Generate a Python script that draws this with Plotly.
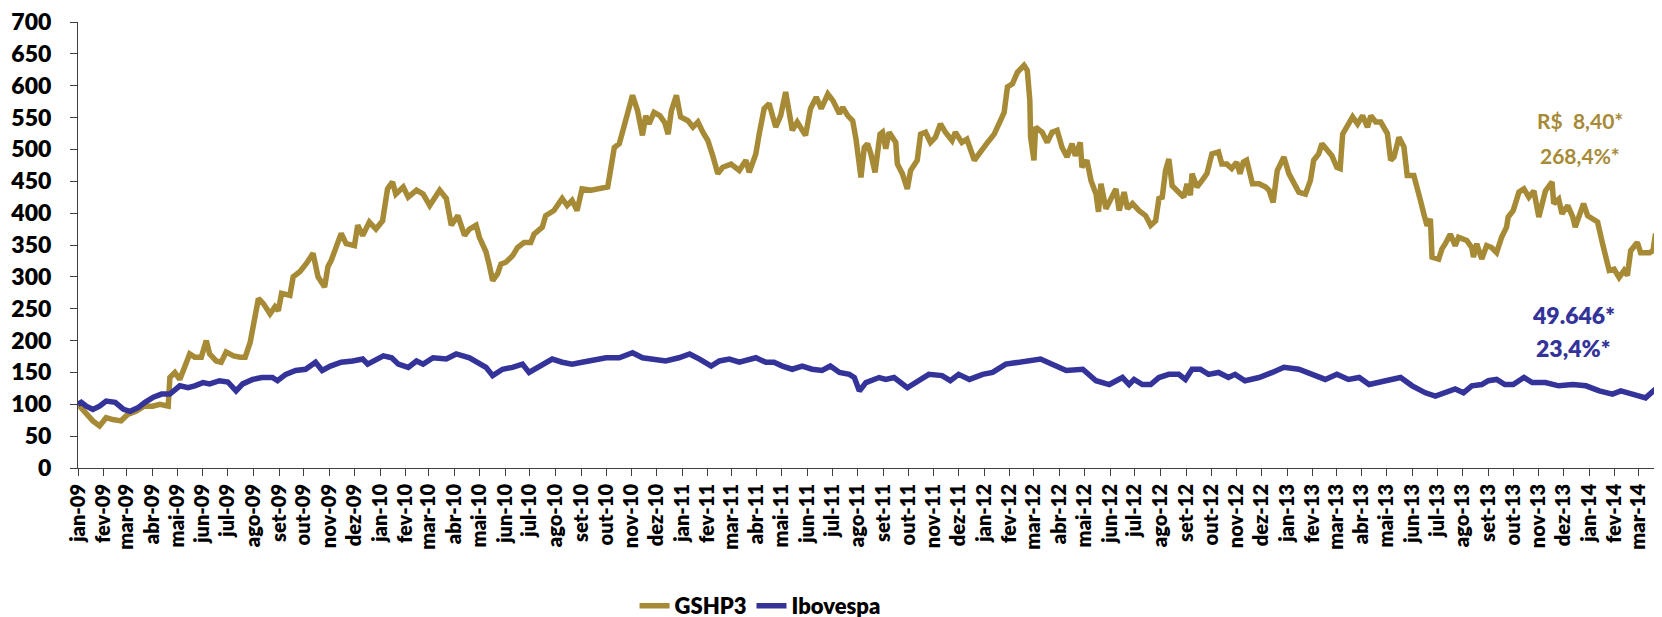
"""
Gráfico de desempenho: GSHP3 vs Ibovespa (base 100 em 01/01/2009)
"""
import pandas as pd
import plotly.graph_objects as go

INICIO = pd.Timestamp("2009-01-01")
COR_GSHP3 = "#A68A36"
COR_IBOV = "#333399"
FONTE = "Lato"

# GSHP3 - dias corridos desde 01/01/2009 e valor (base 100)
gshp3_dias = [
    0, 4, 10, 18, 26, 34, 42, 52, 60, 70, 80, 90, 99, 105, 109, 111, 117, 123, 129, 135,
    141, 149, 155, 159, 167, 173, 179, 188, 196, 202, 208, 212, 218, 224, 232, 238, 242, 246,
    256, 260, 268, 276, 284, 290, 298, 302, 306, 312, 318,
    324, 334, 338, 344, 352, 360, 368, 374, 380, 384, 393, 399, 409, 417, 425, 431, 437, 445,
    451, 459, 467, 473, 481, 485, 493, 497, 501, 507, 511, 517, 525, 531, 539, 547, 551, 561,
    565, 575, 585, 591, 597, 603, 609, 620, 630,
    640, 644, 648, 654, 658, 662, 670, 676, 682, 686, 690, 696, 703, 709, 713, 717, 723, 728,
    737, 743, 749, 755, 761, 767, 773, 779, 789, 799, 807, 811, 819, 823, 829, 835, 843, 849,
    855, 863, 869, 879, 885, 892, 898, 906, 912, 920, 924, 930,
    936, 940, 946, 950, 954, 958, 963, 969, 972, 976, 980, 988, 990, 996, 1002, 1006, 1014,
    1018, 1024, 1030, 1036, 1042, 1048, 1056, 1060, 1068, 1074, 1083, 1091, 1099, 1107, 1113,
    1119, 1123, 1129, 1135, 1143, 1147, 1150, 1151, 1155, 1157, 1165, 1171, 1177, 1183, 1189,
    1195, 1201, 1205, 1211, 1213, 1219, 1224, 1230, 1233, 1236, 1242, 1248, 1254,
    1258, 1264, 1268, 1274, 1282, 1290, 1296, 1302, 1306, 1310, 1314, 1318, 1322, 1330, 1336,
    1340, 1344, 1346, 1352, 1358, 1364, 1370, 1378, 1382, 1388, 1394, 1400, 1404, 1408, 1412,
    1419, 1427, 1435, 1439, 1444, 1449, 1457, 1463, 1469, 1475, 1483, 1489, 1493, 1499, 1503,
    1509, 1515, 1521, 1525, 1528, 1533, 1540, 1546, 1552, 1558, 1562, 1568, 1574,
    1582, 1586, 1590, 1596, 1602, 1606, 1614, 1618, 1622, 1626, 1630, 1634, 1636, 1644, 1648,
    1652, 1658, 1664, 1668, 1678, 1684, 1686, 1690, 1696, 1702, 1708, 1714, 1720, 1726, 1728,
    1734, 1741, 1747, 1753, 1759, 1765, 1769, 1773, 1781, 1783, 1789, 1793, 1800, 1806, 1809,
    1814, 1819, 1824, 1830, 1836, 1842, 1846, 1850, 1856, 1862, 1868, 1872, 1876, 1884, 1888,
    1899, 1903, 1906,
]
gshp3_valores = [
    100, 94, 87, 74, 66, 79, 76, 74, 84, 89, 97, 97, 100, 97, 97, 142, 150, 139, 158, 179,
    174, 174, 200, 179, 168, 166, 182, 176, 174, 174, 197, 229, 266, 258, 242, 253, 247, 274,
    271, 300, 308, 321, 337, 300, 284, 316, 326, 347, 368,
    352, 349, 381, 365, 386, 375, 388, 438, 449, 430, 441, 425, 436, 430, 412, 425, 436, 423,
    381, 396, 365, 375, 381, 362, 339, 318, 294, 305, 320, 323, 333, 346, 354, 354, 367, 378,
    396, 404, 423, 412, 420, 404, 438, 436, 438,
    441, 472, 503, 509, 530, 548, 585, 561, 522, 553, 540, 558, 553, 542, 524, 561, 585, 551,
    545, 535, 543, 527, 514, 490, 462, 472, 477, 467, 483, 464, 493, 524, 564, 572, 535, 553,
    590, 530, 543, 522, 564, 582, 564, 587, 577, 556, 566, 553,
    545, 516, 456, 503, 509, 493, 464, 524, 527, 501, 527, 511, 477, 462, 438, 467, 483,
    524, 527, 511, 519, 540, 527, 514, 527, 511, 516, 483, 498, 511, 524, 540,
    558, 598, 603, 621, 632, 624, 577, 519, 483, 535, 527, 511, 527, 530, 503,
    488, 509, 490, 511, 472, 483, 451, 430, 402, 446, 407, 425, 438,
    404, 433, 407, 415, 404, 396, 381, 388, 423, 425, 467, 485, 443, 433, 425,
    446, 428, 462, 441, 451, 462, 493, 496, 477, 477, 470, 480, 462, 480, 483,
    446, 446, 441, 436, 417, 467, 488, 462, 449, 433, 430, 451, 483, 493, 509,
    501, 490, 472, 470, 524, 537, 551, 540, 553, 535, 553, 543, 543,
    525, 483, 488, 519, 504, 459, 459, 435, 420, 399, 380, 391, 331, 328, 344,
    352, 367, 349, 362, 357, 346, 331, 352, 328, 349, 346, 338, 362, 378, 394,
    404, 433, 438, 425, 435, 394, 420, 435, 449, 415, 422, 399, 412, 394, 378,
    396, 415, 396, 391, 386, 352, 328, 310, 312, 299, 310, 302, 341, 354, 338,
    338, 341, 368,
]

# Ibovespa - dias corridos desde 01/01/2009 e valor (base 100)
ibov_dias = [
    0, 4, 10, 18, 26, 34, 45, 55, 63, 73, 81, 91, 101, 111, 123, 133, 141, 151, 159, 171,
    181, 191, 199, 211, 222, 235, 241, 251, 263, 275, 287, 295, 305, 318,
    332, 344, 350, 369, 379, 387, 399, 409, 417, 429, 445, 457, 473, 485, 493, 501, 513,
    525, 537, 545, 557, 573, 585, 597, 609, 626,
    638, 654, 670, 682, 694, 710, 726, 739, 751, 765, 775, 787, 799, 819, 831, 841, 851,
    863, 875, 887, 899, 909, 920, 932, 938,
    944, 952, 968, 976, 986, 1002, 1016, 1028, 1044, 1054, 1064, 1077, 1093, 1105, 1121,
    1137, 1153, 1163, 1177, 1194, 1214, 1230, 1246,
    1262, 1270, 1276, 1286, 1296, 1306, 1318, 1330, 1338, 1346, 1356, 1366, 1378, 1390,
    1398, 1410, 1427, 1443, 1457, 1475, 1491, 1507, 1521, 1535, 1548, 1560,
    1580, 1598, 1612, 1628, 1640, 1652, 1664, 1674, 1684, 1696, 1704, 1714, 1724, 1734,
    1747, 1757, 1773, 1789, 1806, 1822, 1838, 1854, 1864, 1878, 1894, 1906,
]
ibov_valores = [
    100, 103, 97, 92, 97, 105, 103, 92, 89, 95, 103, 111, 116, 116, 129, 126, 129, 134, 132, 137,
    135, 121, 132, 139, 142, 142, 137, 147, 153, 155, 166, 153, 160, 166,
    168, 171, 163, 176, 173, 163, 158, 168, 163, 173, 171, 179, 173, 163, 158, 145, 155,
    158, 163, 150, 158, 171, 166, 163, 166, 171,
    173, 173, 181, 173, 171, 168, 173, 179, 171, 160, 168, 171, 166, 173, 166, 166, 160,
    155, 160, 155, 153, 160, 150, 147, 142,
    121, 134, 142, 139, 142, 126, 137, 147, 145, 137, 147, 139, 147, 150, 163,
    166, 168, 171, 163, 153, 155, 137, 131,
    142, 131, 139, 131, 131, 142, 147, 147, 139, 155, 155, 147, 150, 142,
    147, 137, 142, 150, 158, 155, 147, 139, 147, 139, 142, 131,
    137, 142, 129, 118, 113, 118, 124, 118, 129, 131, 137, 139, 131, 131,
    142, 134, 134, 129, 131, 129, 121, 116, 121, 116, 110, 124,
]

# Rótulos do eixo X (um por mês, jan-09 a mar-14)
meses = ["jan", "fev", "mar", "abr", "mai", "jun", "jul", "ago", "set", "out", "nov", "dez"]
anos = ["09", "10", "11", "12", "13", "14"]
rotulos_x = [f"{m}-{a}" for a in anos for m in meses][:63]
ticks_y = list(range(0, 701, 50))

# Textos de destaque no final das séries
destaques_gshp3 = ["R$\u00a0\u00a08,40*", "268,4%*"]
destaques_ibov = ["49.646*", "23,4%*"]


def para_datas(dias):
    """Converte dias corridos em datas"""
    return INICIO + pd.to_timedelta(dias, unit="D")


ticks_x = pd.date_range(INICIO, periods=len(rotulos_x), freq="MS")
fim = INICIO + pd.Timedelta(days=gshp3_dias[-1] + 3)

fig = go.Figure()

fig.add_trace(go.Scatter(
    x=para_datas(gshp3_dias), y=gshp3_valores,
    name="GSHP3", mode="lines",
    line=dict(color=COR_GSHP3, width=5.5),
))
fig.add_trace(go.Scatter(
    x=para_datas(ibov_dias), y=ibov_valores,
    name="Ibovespa", mode="lines",
    line=dict(color=COR_IBOV, width=5.5),
))

fig.update_xaxes(
    range=[INICIO, fim], automargin=False,
    tickvals=ticks_x, ticktext=rotulos_x, tickangle=-90,
    ticks="outside", ticklen=7, tickcolor="#404040",
    showline=True, linecolor="#404040", linewidth=1,
    showgrid=False, zeroline=False,
    tickfont=dict(family=FONTE, size=20, color="black", weight=800),
)
fig.update_yaxes(
    range=[0, 700], tickvals=ticks_y, automargin=False,
    ticks="outside", ticklen=7, tickcolor="#404040",
    showline=True, linecolor="#404040", linewidth=1,
    showgrid=False, zeroline=False,
    ticklabelstandoff=14, ticklabeloverflow="allow",
    tickfont=dict(family=FONTE, size=23, color="black", weight=800),
)

# Anotações (posição em fração do eixo X, valor no eixo Y)
for texto, y in zip(destaques_gshp3, [546, 490]):
    fig.add_annotation(
        xref="paper", yref="y", x=0.9506, y=y, text=texto, showarrow=False,
        xanchor="center", yanchor="middle",
        font=dict(family=FONTE, size=21, color=COR_GSHP3, weight=700),
    )
for texto, y in zip(destaques_ibov, [240, 188]):
    fig.add_annotation(
        xref="paper", yref="y", x=0.9465, y=y, text=texto, showarrow=False,
        xanchor="center", yanchor="middle",
        font=dict(family=FONTE, size=23, color=COR_IBOV, weight=800),
    )

fig.update_layout(
    width=1662, height=617,
    margin=dict(l=70, r=12, t=14, b=157),
    paper_bgcolor="white", plot_bgcolor="white",
    showlegend=True,
    legend=dict(
        orientation="h", xref="container", yref="container",
        x=0.4525, xanchor="center", y=0.031, yanchor="middle",
        font=dict(family=FONTE, size=22, color="black", weight=800),
    ),
)

fig.write_html("out.html")
